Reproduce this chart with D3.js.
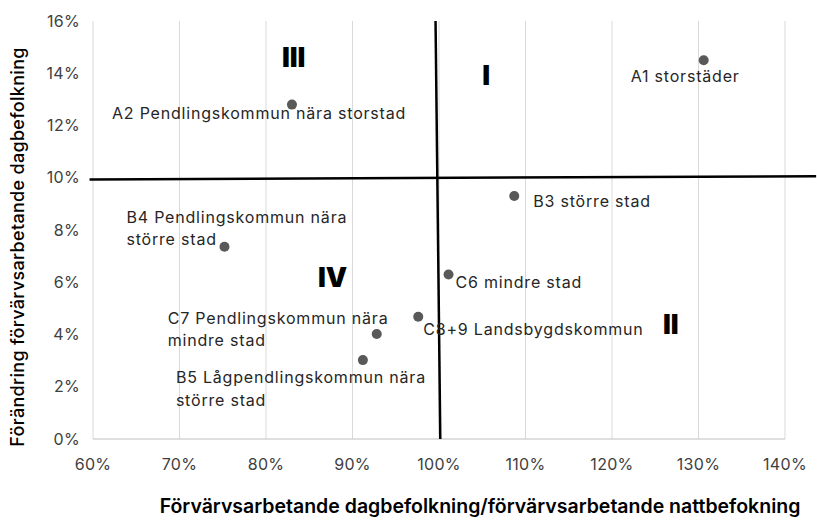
<!DOCTYPE html>
<html>
<head>
<meta charset="utf-8">
<script src="https://cdn.jsdelivr.net/npm/d3@7"></script>
<style>
  body { margin: 0; background: #fff; }
  text { font-family: Inter, "Noto Sans", sans-serif; }
</style>
</head>
<body>
<script>
// data
const names = [
  ['A1 storstäder'],
  ['A2 Pendlingskommun nära storstad'],
  ['B3 större stad'],
  ['B4 Pendlingskommun nära', 'större stad'],
  ['C6 mindre stad'],
  ['C8+9 Landsbygdskommun'],
  ['C7 Pendlingskommun nära', 'mindre stad'],
  ['B5 Lågpendlingskommun nära', 'större stad']
];
const xValues = [1.306, 0.830, 1.087, 0.752, 1.011, 0.976, 0.928, 0.912];
const yValues = [0.145, 0.128, 0.093, 0.0736, 0.063, 0.0468, 0.0402, 0.0302];
const xTicks = [0.6, 0.7, 0.8, 0.9, 1.0, 1.1, 1.2, 1.3, 1.4];
const yTicks = [0, 0.02, 0.04, 0.06, 0.08, 0.10, 0.12, 0.14, 0.16];
const quadrants = ['III', 'I', 'IV', 'II'];
const quadrantX = [0.832, 1.0545, 0.877, 1.268];
const quadrantY = [0.1424, 0.1355, 0.0582, 0.0402];

// label placement relative to each point (pixels)
const labelOffsets = [[-73, 22], [-180, 14], [19, 11], [-98, -24], [7, 14], [5, 18], [-209, -10], [-187, 23]];

const width = 817;
const height = 520;
const margin = { top: 21, right: 32, bottom: 81, left: 93 };

const svg = d3.select('body').append('svg')
  .attr('width', width)
  .attr('height', height);

const x = d3.scaleLinear()
  .domain([0.6, 1.4])
  .range([margin.left, width - margin.right]);

const y = d3.scaleLinear()
  .domain([0, 0.16])
  .range([height - margin.bottom, margin.top]);

const pct = d3.format('.0%');

// vertical gridlines
svg.selectAll('.grid')
  .data(xTicks)
  .enter()
  .append('line')
  .attr('x1', d => x(d))
  .attr('x2', d => x(d))
  .attr('y1', y(0.16))
  .attr('y2', y(0))
  .attr('stroke', '#d9d9d9')
  .attr('stroke-width', 1);

// bottom axis line
svg.append('line')
  .attr('x1', x(0.6))
  .attr('x2', x(1.4))
  .attr('y1', y(0))
  .attr('y2', y(0))
  .attr('stroke', '#bfbfbf');

// tick labels
svg.selectAll('.xtick')
  .data(xTicks)
  .enter()
  .append('text')
  .attr('x', d => x(d))
  .attr('y', y(0) + 31)
  .attr('text-anchor', 'middle')
  .attr('font-size', '16px')
  .attr('letter-spacing', '0.3px')
  .attr('fill', '#404040')
  .text(d => pct(d));

svg.selectAll('.ytick')
  .data(yTicks)
  .enter()
  .append('text')
  .attr('x', margin.left - 13)
  .attr('y', d => y(d))
  .attr('dy', '.35em')
  .attr('text-anchor', 'end')
  .attr('font-size', '16px')
  .attr('letter-spacing', '0.3px')
  .attr('fill', '#404040')
  .text(d => pct(d));

// quadrant dividers
svg.append('line')
  .attr('x1', x(0.596))
  .attr('x2', x(1.436))
  .attr('y1', y(0.0993))
  .attr('y2', y(0.1006))
  .attr('stroke', '#000')
  .attr('stroke-width', 2.5);

svg.append('line')
  .attr('x1', x(0.996))
  .attr('x2', x(1.0015))
  .attr('y1', y(0.16))
  .attr('y2', y(0))
  .attr('stroke', '#000')
  .attr('stroke-width', 2.5);

// points
svg.selectAll('.dot')
  .data(xValues)
  .enter()
  .append('circle')
  .attr('cx', d => x(d))
  .attr('cy', (d, i) => y(yValues[i]))
  .attr('r', 5)
  .attr('fill', '#595959');

// point labels
const labels = svg.selectAll('.label')
  .data(names)
  .enter()
  .append('text')
  .attr('x', (d, i) => x(xValues[i]) + labelOffsets[i][0])
  .attr('y', (d, i) => y(yValues[i]) + labelOffsets[i][1])
  .attr('font-size', '16px')
  .attr('letter-spacing', '0.8px')
  .attr('fill', '#262626');

labels.selectAll('tspan')
  .data(d => d)
  .enter()
  .append('tspan')
  .attr('x', function () { return this.parentNode.getAttribute('x'); })
  .attr('dy', (d, i) => i === 0 ? 0 : 22.5)
  .text(d => d);

// quadrant numerals
svg.selectAll('.quad')
  .data(quadrants)
  .enter()
  .append('text')
  .attr('x', (d, i) => x(quadrantX[i]))
  .attr('y', (d, i) => y(quadrantY[i]))
  .attr('text-anchor', 'middle')
  .attr('font-size', '27px')
  .attr('font-weight', 900)
  .attr('fill', '#000')
  .text(d => d);

// axis titles
svg.append('text')
  .attr('transform', `translate(24, ${(y(0) + y(0.16)) / 2 + 17}) rotate(-90)`)
  .attr('text-anchor', 'middle')
  .attr('font-size', '18px')
  .attr('letter-spacing', '0.3px')
  .attr('font-weight', 500)
  .attr('fill', '#000')
  .text('Förändring förvärvsarbetande dagbefolkning');

svg.append('text')
  .attr('x', 480)
  .attr('y', 513)
  .attr('text-anchor', 'middle')
  .attr('font-size', '19.5px')
  .attr('font-weight', 600)
  .attr('fill', '#000')
  .text('Förvärvsarbetande dagbefolkning/förvärvsarbetande nattbefokning');
</script>
</body>
</html>
